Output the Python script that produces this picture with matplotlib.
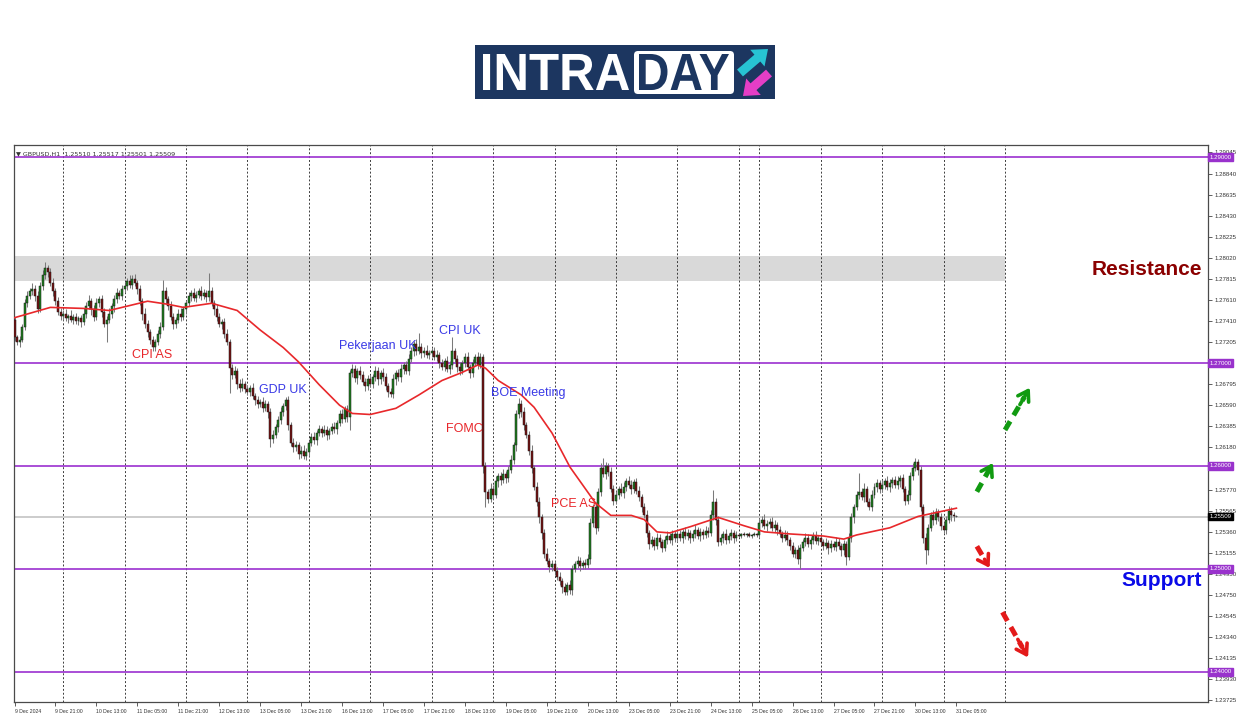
import matplotlib
matplotlib.use("Agg")
import matplotlib.pyplot as plt
import numpy as np
from matplotlib.patches import PathPatch, FancyBboxPatch, Rectangle
from matplotlib.textpath import TextPath
from matplotlib.font_manager import FontProperties
from matplotlib.transforms import Affine2D

plt.rcParams['font.family'] = ['Liberation Sans', 'DejaVu Sans']

# ---------------- data (prices in pips above 1.2000) ----------------
BASE = 1.2
PIP = 0.0001
first_open = 742

closes = [
    # 9 Dec (05:00-23:00)
    725, 720, 722, 735, 758, 765, 770, 772, 765, 752, 775, 785, 792, 788, 778, 770, 760, 750, 746,
    # 10 Dec
    748, 744, 746, 742, 745, 741, 744, 740, 748, 755, 760, 752, 745, 758, 762, 750, 738, 742, 748, 755, 762, 768, 765, 772,
    # 11 Dec
    775, 780, 776, 782, 778, 772, 760, 748, 738, 730, 722, 716, 720, 728, 735, 770, 762, 755, 745, 738, 742, 748, 745, 752,
    # 12 Dec
    758, 765, 768, 763, 766, 770, 765, 768, 764, 770, 758, 752, 745, 738, 740, 728, 720, 695, 688, 692, 680, 676, 680, 675,
    # 13 Dec
    672, 676, 668, 664, 660, 662, 656, 660, 652, 626, 630, 638, 645, 652, 658, 664, 640, 622, 618, 620, 612, 615, 610, 614,
    # 16 Dec
    622, 628, 625, 632, 636, 632, 635, 630, 634, 638, 636, 642, 650, 646, 655, 648, 690, 694, 685, 692, 688, 682, 678, 684,
    # 17 Dec
    680, 686, 692, 684, 690, 686, 678, 672, 670, 684, 690, 686, 694, 698, 692, 704, 712, 718, 712, 716, 710, 712, 708, 710,
    # 18 Dec
    712, 706, 708, 700, 696, 702, 694, 698, 712, 704, 696, 692, 700, 706, 696, 690, 700, 706, 698, 706, 600, 575, 568, 578,
    # 19 Dec
    572, 585, 590, 586, 592, 588, 596, 606, 620, 650, 660, 652, 640, 630, 615, 598, 580, 565, 550, 535, 515, 508, 502, 505,
    # 20 Dec
    498, 492, 488, 482, 478, 484, 480, 500, 505, 508, 503, 506, 504, 510, 545, 560, 540, 575, 598, 592, 600, 594, 578, 566,
    # 23 Dec
    572, 578, 574, 580, 585, 582, 578, 584, 576, 570, 560, 552, 535, 524, 528, 522, 530, 526, 520, 528, 532, 528, 534, 530,
    # 24 Dec
    534, 530, 536, 532, 535, 530, 534, 538, 532, 536, 533, 537, 535, 552, 565, 548, 526, 530, 534, 528, 532, 535, 530, 533,
    # 25 Dec
    532, 534, 533, 534, 532, 533, 534, 533,
    # 26 Dec
    545, 548, 542, 544, 546, 540, 543, 538, 534, 530, 533, 528, 522, 515, 518, 510, 520, 526, 530, 524, 528, 532, 527, 530,
    # 27 Dec
    526, 522, 525, 520, 524, 521, 526, 522, 518, 524, 512, 530, 550, 560, 572, 575, 570, 578, 565, 560, 572, 580, 583, 578,
    # 30 Dec
    582, 585, 580, 583, 586, 582, 585, 588, 578, 566, 572, 590, 598, 604, 596, 560, 530, 518, 540, 552, 548, 555, 550, 542,
    # 31 Dec
    538, 548, 556, 552, 551, 551,
]

wick_up = [
    3, 2, 4, 3, 4, 5, 3, 6, 4, 5, 4, 5, 6, 3, 4, 5, 3, 4, 3,
    3, 4, 2, 5, 3, 4, 2, 3, 5, 4, 6, 3, 4, 5, 3, 4, 3, 4, 5, 3, 4, 5, 3, 4,
    4, 3, 5, 3, 4, 3, 4, 3, 5, 4, 3, 4, 3, 4, 5, 11, 4, 3, 5, 4, 3, 4, 5, 3,
    3, 4, 3, 5, 4, 3, 5, 4, 3, 17, 4, 3, 5, 4, 3, 4, 5, 3, 4, 5, 3, 4, 5, 3,
    4, 3, 5, 3, 4, 3, 5, 4, 3, 4, 5, 3, 4, 5, 3, 3, 4, 3, 5, 4, 3, 4, 5, 3,
    3, 4, 5, 3, 4, 3, 5, 4, 3, 4, 5, 3, 4, 5, 3, 4, 3, 5, 4, 3, 5, 4, 3, 4,
    4, 3, 5, 4, 3, 5, 4, 3, 4, 5, 3, 4, 5, 3, 4, 5, 4, 3, 5, 13, 3, 4, 5, 3,
    3, 4, 5, 3, 4, 3, 5, 4, 13, 3, 4, 5, 3, 4, 5, 3, 4, 3, 5, 4, 3, 4, 3, 5,
    4, 5, 3, 4, 5, 3, 4, 5, 3, 4, 6, 4, 5, 3, 4, 5, 3, 4, 5, 3, 4, 5, 3, 4,
    3, 4, 5, 3, 4, 3, 5, 4, 3, 5, 4, 3, 4, 5, 4, 3, 5, 4, 5, 10, 4, 3, 5, 4,
    4, 3, 5, 4, 3, 5, 4, 3, 4, 5, 3, 4, 5, 3, 4, 3, 5, 4, 3, 4, 5, 3, 4, 3,
    3, 4, 3, 5, 4, 3, 4, 5, 3, 4, 3, 5, 4, 5, 12, 4, 3, 4, 3, 5, 3, 4, 3, 4,
    2, 1, 2, 1, 2, 1, 2, 1,
    4, 3, 5, 4, 3, 4, 5, 3, 4, 3, 5, 4, 3, 4, 3, 5, 4, 3, 5, 4, 3, 4, 5, 3,
    4, 3, 5, 3, 4, 3, 5, 4, 3, 4, 3, 5, 4, 3, 4, 18, 4, 5, 3, 4, 5, 3, 4, 3,
    4, 3, 5, 4, 3, 4, 5, 3, 4, 3, 5, 4, 5, 4, 3, 4, 3, 5, 4, 3, 5, 4, 3, 4,
    4, 3, 5, 4, 3, 1,
]

wick_dn = [
    4, 3, 4, 2, 3, 4, 3, 4, 5, 3, 2, 4, 3, 4, 3, 5, 4, 3, 4,
    4, 3, 5, 2, 4, 3, 4, 5, 3, 4, 3, 5, 4, 3, 4, 5, 3, 18, 3, 4, 5, 4, 3, 4,
    3, 4, 3, 4, 3, 5, 4, 6, 4, 5, 4, 4, 4, 3, 4, 3, 5, 4, 3, 5, 4, 3, 4, 3,
    4, 3, 5, 3, 4, 3, 4, 3, 5, 4, 3, 5, 4, 3, 5, 4, 3, 24, 4, 3, 5, 4, 3, 4,
    3, 4, 3, 5, 4, 3, 4, 3, 5, 8, 4, 3, 5, 4, 3, 4, 5, 3, 4, 3, 5, 4, 3, 4,
    4, 3, 4, 5, 3, 4, 3, 5, 4, 3, 4, 5, 3, 4, 3, 5, 13, 4, 3, 5, 4, 3, 5, 4,
    3, 4, 3, 5, 4, 3, 4, 5, 3, 4, 5, 3, 4, 5, 3, 4, 3, 5, 4, 3, 5, 4, 3, 4,
    4, 3, 4, 5, 3, 4, 3, 5, 4, 3, 5, 4, 3, 4, 3, 5, 4, 3, 4, 3, 7, 15, 4, 3,
    4, 3, 5, 4, 3, 5, 4, 3, 4, 5, 3, 4, 5, 3, 4, 5, 3, 4, 5, 6, 4, 3, 5, 4,
    4, 3, 4, 5, 3, 3, 4, 5, 3, 4, 5, 3, 4, 3, 5, 4, 6, 3, 4, 3, 5, 4, 3, 4,
    3, 4, 3, 5, 4, 3, 5, 4, 3, 4, 5, 3, 4, 5, 3, 4, 3, 5, 4, 3, 4, 3, 5, 4,
    4, 3, 5, 3, 4, 5, 3, 4, 3, 5, 4, 3, 4, 3, 4, 5, 4, 3, 5, 4, 3, 4, 5, 3,
    1, 2, 1, 2, 1, 2, 1, 2,
    3, 4, 3, 5, 4, 3, 4, 5, 3, 4, 3, 5, 4, 3, 4, 5, 10, 3, 4, 3, 5, 4, 3, 4,
    3, 4, 3, 5, 4, 3, 4, 3, 5, 4, 8, 3, 4, 5, 3, 4, 3, 5, 4, 3, 4, 3, 5, 4,
    3, 4, 3, 5, 4, 3, 4, 5, 3, 4, 3, 5, 4, 3, 5, 4, 5, 13, 4, 3, 5, 4, 3, 4,
    3, 4, 3, 5, 4, 1,
]

ma_bars = [0, 14, 27, 37, 52, 60, 66, 77, 87, 96, 105, 111, 119, 127, 132, 139, 149, 158, 167,
           175, 181, 184, 189, 198, 203, 210, 217, 227, 233, 241, 246, 251, 256, 264, 275, 285,
           293, 303, 316, 324, 329, 342, 353, 368]
ma_vals = [744, 754, 753, 751, 760, 757, 754, 758, 751, 732, 715, 701, 679, 659, 651, 650, 656, 669, 683,
           691, 698, 695, 683, 669, 657, 632, 599, 564, 552, 552, 548, 536, 535, 541, 550, 542,
           536, 534, 532, 529, 533, 540, 551, 559]

x_tick_labels = ["9 Dec 2024", "9 Dec 21:00", "10 Dec 13:00", "11 Dec 05:00", "11 Dec 21:00",
                 "12 Dec 13:00", "13 Dec 05:00", "13 Dec 21:00", "16 Dec 13:00", "17 Dec 05:00",
                 "17 Dec 21:00", "18 Dec 13:00", "19 Dec 05:00", "19 Dec 21:00", "20 Dec 13:00",
                 "23 Dec 05:00", "23 Dec 21:00", "24 Dec 13:00", "25 Dec 05:00", "26 Dec 13:00",
                 "27 Dec 05:00", "27 Dec 21:00", "30 Dec 13:00", "31 Dec 05:00"]
day_start_bars = [19, 43, 67, 91, 115, 139, 163, 187, 211, 235, 259, 283, 291, 315, 339, 363, 387]

y_ticks = [1.29045, 1.28840, 1.28635, 1.28430, 1.28225, 1.28020, 1.27815, 1.27610, 1.27410,
           1.27205, 1.27000, 1.26795, 1.26590, 1.26385, 1.26180, 1.25975, 1.25770, 1.25565,
           1.25360, 1.25155, 1.24950, 1.24750, 1.24545, 1.24340, 1.24135, 1.23930, 1.23725]
y_tick_labels = ["1.29045", "1.28840", "1.28635", "1.28430", "1.28225", "1.28020", "1.27815",
                 "1.27610", "1.27410", "1.27205", "", "1.26795", "1.26590", "1.26385", "1.26180",
                 "", "1.25770", "1.25565", "1.25360", "1.25155", "1.24950", "1.24750", "1.24545",
                 "1.24340", "1.24135", "1.23930", "1.23725"]
key_levels = [1.29, 1.27, 1.26, 1.25, 1.24]
resistance_zone = (1.2780, 1.2804)
last_price = 1.25509
header = "\u25BC GBPUSD,H1  1.25510 1.25517 1.25501 1.25509"

events = [("CPI AS", 53.8, 1.27078, "#e8262a"),
          ("GDP UK", 104.9, 1.26738, "#3a3ae6"),
          ("Pekerjaan UK", 142.0, 1.27165, "#3a3ae6"),
          ("CPI UK", 174.0, 1.27310, "#3a3ae6"),
          ("FOMC", 175.6, 1.26360, "#e8262a"),
          ("BOE Meeting", 200.6, 1.26710, "#3a3ae6"),
          ("PCE AS", 218.6, 1.25630, "#e8262a")]

# scenario arrows: (tail bar, tail price, tip bar, tip price, colour)
scenario_arrows = [(376.0, 1.25750, 382.3, 1.26030, "#119a11"),
                   (387.0, 1.26350, 396.7, 1.26760, "#119a11"),
                   (376.0, 1.25220, 381.0, 1.25010, "#e31a1a"),
                   (386.0, 1.24580, 396.0, 1.24140, "#e31a1a")]

# ---------------- figure ----------------
W, H = 1250, 716
fig = plt.figure(figsize=(W / 100, H / 100), dpi=100)
fig.patch.set_facecolor("white")

L, R, T, B = 14, 1208, 145, 702
ax = fig.add_axes([L / W, 1 - B / H, (R - L) / W, (B - T) / H])
ax.set_facecolor("white")
ax.set_xlim(-0.2, 466.3)
ax.set_ylim(1.23708, 1.29117)

c = np.array(closes, dtype=float)
o = np.r_[first_open, c[:-1]]
up = np.array(wick_up, dtype=float)
dn = np.array(wick_dn, dtype=float)
n = min(len(c), len(up), len(dn))
c, o, up, dn = c[:n], o[:n], up[:n], dn[:n]
x = np.arange(n)
hi = np.maximum(o, c) + up
lo = np.minimum(o, c) - dn

# background elements
ax.axhspan(*resistance_zone, xmin=0, xmax=(387 + 0.2) / (466.3 + 0.2), color="#d9d9d9", lw=0, zorder=0)
for b in day_start_bars:
    ax.axvline(b, color="#3c3c3c", lw=0.7, ls=(0, (2, 2)), zorder=1)
ax.axhline(last_price, color="#c8c8c8", lw=1.3, zorder=1)
for lv in key_levels:
    ax.axhline(lv, color="#9b30d0", lw=1.2, zorder=2)

# candles
ax.vlines(x, BASE + lo * PIP, BASE + hi * PIP, color="#7a7a7a", lw=0.75, zorder=3)
bull = c > o
bear = c < o
doji = c == o
ax.bar(x[bull], (c - o)[bull] * PIP, bottom=BASE + o[bull] * PIP, width=0.78,
       color="#1f7f1f", edgecolor="#1a1a1a", linewidth=0.35, zorder=4)
ax.bar(x[bear], (c - o)[bear] * PIP, bottom=BASE + o[bear] * PIP, width=0.78,
       color="#761212", edgecolor="#1a1a1a", linewidth=0.35, zorder=4)
ax.hlines(BASE + c[doji] * PIP, x[doji] - 0.4, x[doji] + 0.4, color="#444444", lw=0.6, zorder=4)

# moving average
ax.plot(ma_bars, BASE + np.array(ma_vals) * PIP, color="#e8282b", lw=1.2, zorder=5)

# event labels
for txt, bx, py, col in events:
    ax.text(bx, py, txt, color=col, fontsize=9, ha="center", va="center", zorder=6)

# resistance / support
ax.text(0.995, 1.2791, "Resistance", transform=ax.get_yaxis_transform(), ha="right", va="center",
        fontsize=15, fontweight="bold", color="#8b0000", zorder=6)
ax.text(0.995, 1.2489, "Support", transform=ax.get_yaxis_transform(), ha="right", va="center",
        fontsize=15, fontweight="bold", color="#0a0ae8", zorder=6)

# scenario arrows
for tb, tp, hb, hp, col in scenario_arrows:
    sb = tb + 0.78 * (hb - tb)
    sp = tp + 0.78 * (hp - tp)
    ax.plot([tb, sb], [tp, sp], color=col, lw=3.6, ls=(0, (2.0, 1.4)), solid_capstyle="butt",
            dash_capstyle="butt", zorder=6)
    ab = tb + 0.6 * (hb - tb)
    ap = tp + 0.6 * (hp - tp)
    ax.annotate("", xy=(hb, hp), xytext=(ab, ap),
                arrowprops=dict(arrowstyle="->,head_length=0.7,head_width=0.45", lw=2.6, color=col,
                                shrinkA=0, shrinkB=0), zorder=6)

# header
ax.text(0.002, 0.985, header, transform=ax.transAxes, fontsize=4.6, color="#333333",
        ha="left", va="center", family="DejaVu Sans")

# axes styling
for s in ax.spines.values():
    s.set_color("#4a4a4a")
    s.set_linewidth(0.9)
ax.yaxis.tick_right()
ax.set_yticks(y_ticks)
ax.set_yticklabels(y_tick_labels)
ax.tick_params(axis="y", labelsize=4.4, length=3, width=0.6, pad=1.5, colors="#444444",
               labelcolor="#333333")
ax.set_xticks(np.arange(0, 16 * len(x_tick_labels), 16))
ax.set_xticklabels(x_tick_labels, ha="left")
ax.tick_params(axis="x", labelsize=3.7, length=3, width=0.6, pad=2, colors="#444444",
               labelcolor="#333333")

# highlighted price boxes
for lv in key_levels:
    ax.text(1.0015, lv, "%.5f" % lv, transform=ax.get_yaxis_transform(), fontsize=4.4,
            color="white", ha="left", va="center", zorder=10, clip_on=False,
            bbox=dict(boxstyle="square,pad=0.22", fc="#9932cc", ec="#9932cc"))
ax.text(1.0015, last_price, "%.5f" % last_price, transform=ax.get_yaxis_transform(), fontsize=4.4,
        color="white", ha="left", va="center", zorder=10, clip_on=False,
        bbox=dict(boxstyle="square,pad=0.22", fc="black", ec="black"))

# ---------------- logo (pixel overlay) ----------------
lg = fig.add_axes([0, 0, 1, 1], facecolor="none")
lg.set_xlim(0, W)
lg.set_ylim(H, 0)
lg.axis("off")

NAVY = "#1c3660"
lg.add_patch(Rectangle((475, 45), 300, 54, fc=NAVY, ec="none"))
lg.add_patch(FancyBboxPatch((634, 51), 100, 43, boxstyle="round,pad=0,rounding_size=4",
                            fc="white", ec="none"))


def text_in_box(axh, s, x0, y0, x1, y1, color):
    fp = FontProperties(family="Liberation Sans", weight="bold")
    tp = TextPath((0, 0), s, size=100, prop=fp)
    bb = tp.get_extents()
    tr = Affine2D().translate(-bb.x0, -bb.y0).scale((x1 - x0) / bb.width, -(y1 - y0) / bb.height) \
        .translate(x0, y1)
    axh.add_patch(PathPatch(tr.transform_path(tp), fc=color, ec="none"))


text_in_box(lg, "INTRA", 483, 54, 629, 90, "white")
text_in_box(lg, "DAY", 639, 54, 729, 90, NAVY)
lg.arrow(740, 73, 28, -24, width=9, head_width=22, head_length=14, length_includes_head=True,
         fc="#27c3d3", ec="none")
lg.arrow(769, 73, -26, 23, width=9, head_width=22, head_length=14, length_includes_head=True,
         fc="#e53ec6", ec="none")

fig.savefig("out.png", dpi=100, facecolor="white")
